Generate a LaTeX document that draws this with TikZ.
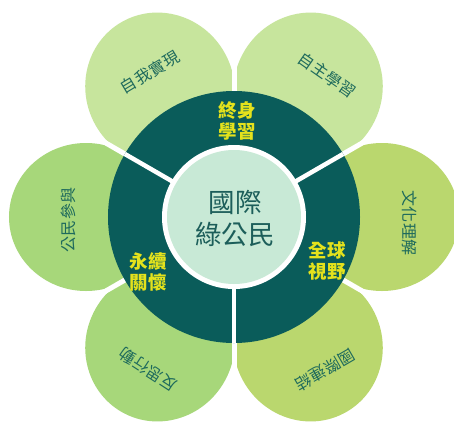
\documentclass[tikz,border=0pt]{standalone}
\usepackage{fontspec}
\newfontfamily\cjk{Noto Sans CJK TC}
\newfontfamily\cjkpet[LetterSpace=4]{Noto Sans CJK TC}
\usetikzlibrary{calc}
\definecolor{petalA}{HTML}{C7E59D}
\definecolor{petalB}{HTML}{BAD76E}
\definecolor{petalC}{HTML}{A7D77A}
\definecolor{ringcol}{HTML}{0A5C5A}
\definecolor{innercol}{HTML}{C8E9D6}
\definecolor{petaltext}{HTML}{1E6A5C}
\definecolor{ringtext}{HTML}{E4E21C}
\definecolor{centertext}{HTML}{1C5E5A}
\tikzset{
  petaltxt/.style={text=petaltext, font=\cjkpet\fontsize{16pt}{18pt}\selectfont, inner sep=0pt},
  ringtxt/.style={text=ringtext, font=\cjk\bfseries\fontsize{18.5pt}{21pt}\selectfont, align=center, inner sep=0pt},
  centertxt/.style={text=centertext, font=\cjk\fontsize{26.5pt}{32pt}\selectfont, align=center, inner sep=0pt},
  gapline/.style={white, line width=5pt},
}
\begin{document}
\begin{tikzpicture}[x=1pt,y=1pt]
\useasboundingbox[fill=white] (-234,-207) rectangle (220,217);
% petals
\foreach \a/\c in {120/petalA,60/petalA,0/petalB,-60/petalB,-120/petalC,180/petalC}{
  \fill[\c, shift={(\a:148)}, rotate=\a] (0,0) ellipse [x radius=77pt, y radius=74pt];
}
% gaps between petals
\foreach \a in {90,30,-30,-90,150,210}{
  \draw[gapline] (0,0) -- (\a:300);
}
% ring
\fill[ringcol] (0,0) circle (126pt);
\foreach \a in {150,30,270}{
  \draw[gapline, line width=4.5pt] (0,0) -- (\a:126);
}
\fill[white] (0,0) circle (72pt);
\fill[innercol] (0,0) circle (67pt);
% center text
\node[centertxt] (center) at (1,-1) {國際\\綠公民};
% ring texts
\node[ringtxt] (lifelong) at (3,96) {終身\\學習};
\node[ringtxt] (global) at (93,-44) {全球\\視野};
\node[ringtxt] (care) at (-86,-55) {永續\\關懷};
% petal texts
\node[petaltxt, rotate=31] (p1) at (-84,145) {自我實現};
\node[petaltxt, rotate=-35] (p2) at (93,142) {自主學習};
\node[petaltxt, rotate=-90] (p3) at (176,-6) {文化理解};
\node[petaltxt, rotate=-150] (p4) at (91,-153) {國際連結};
\node[petaltxt, rotate=147] (p5) at (-86,-153) {反思行動};
\node[petaltxt, rotate=90] (p6) at (-166,-3) {公民參與};
\end{tikzpicture}
\end{document}
